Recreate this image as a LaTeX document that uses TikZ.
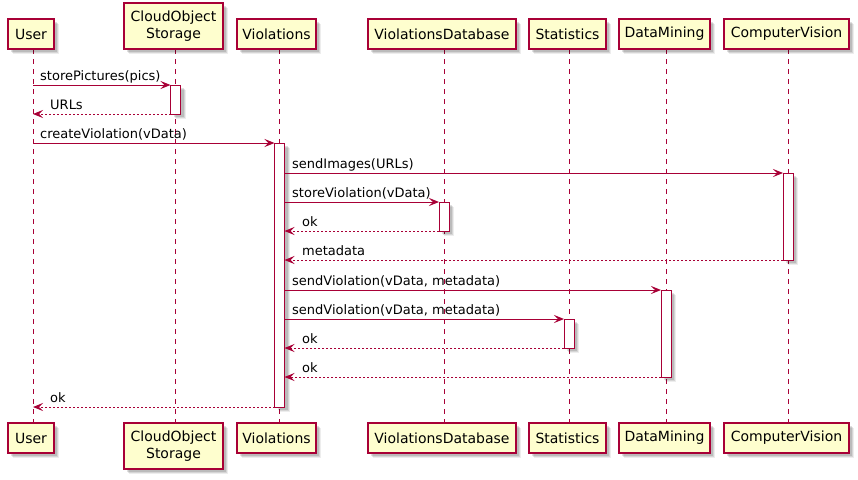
\documentclass[tikz,border=0pt]{standalone}
\usepackage{fontspec}
\setmainfont{DejaVu Sans}
\usetikzlibrary{arrows.meta,shadows}
\definecolor{pred}{HTML}{A80036}
\definecolor{pfill}{HTML}{FEFECE}
\tikzset{
  softshadow/.style={
    drop shadow={shadow xshift=5pt, shadow yshift=-5pt, fill=black, opacity=0.07},
    drop shadow={shadow xshift=4pt, shadow yshift=-4pt, fill=black, opacity=0.1},
    drop shadow={shadow xshift=3pt, shadow yshift=-3pt, fill=black, opacity=0.12}},
  part/.style={draw=pred, fill=pfill, line width=1.5pt, inner sep=0pt, align=center,
    font=\fontsize{14}{16.5}\selectfont, softshadow},
  actbox/.style={draw=pred, fill=white, line width=1pt, softshadow},
  life/.style={draw=pred, line width=1pt, dash pattern=on 5pt off 5pt},
  msg/.style={draw=pred, line width=1pt, -{Stealth[length=10pt,width=8pt,inset=4pt]}},
  ret/.style={msg, dash pattern=on 2pt off 2pt},
  lbl/.style={anchor=base west, inner sep=0pt, font=\fontsize{13}{15}\selectfont}
}
\begin{document}
\begin{tikzpicture}[x=1pt,y=-1pt]
\useasboundingbox (0,0) rectangle (858,479);
% lifeline endpoints
\coordinate (uT) at (33,49);   \coordinate (uB) at (33,423);
\coordinate (cT) at (175.5,49); \coordinate (cB) at (175.5,423);
\coordinate (vT) at (279.5,49); \coordinate (vB) at (279.5,423);
\coordinate (dT) at (444,49);  \coordinate (dB) at (444,423);
\coordinate (sT) at (569,49);  \coordinate (sB) at (569,423);
\coordinate (mT) at (666,49);  \coordinate (mB) at (666,423);
\coordinate (xT) at (788,49);  \coordinate (xB) at (788,423);
\foreach \p in {u,c,v,d,s,m,x} {\draw[life] (\p T) -- (\p B);}
% participants
\node[part, minimum width=46pt, minimum height=30pt] (userT) at (31,34) {User};
\node[part, minimum width=46pt, minimum height=30pt] (userB) at (31,438) {User};
\node[part, minimum width=99pt, minimum height=46pt] (cloudT) at (173.5,26) {CloudObject\\Storage};
\node[part, minimum width=99pt, minimum height=46pt] (cloudB) at (173.5,446) {CloudObject\\Storage};
\node[part, minimum width=79pt, minimum height=30pt] (violT) at (276.5,34) {Violations};
\node[part, minimum width=79pt, minimum height=30pt] (violB) at (276.5,438) {Violations};
\node[part, minimum width=148pt, minimum height=30pt] (vdbT) at (442,34) {ViolationsDatabase};
\node[part, minimum width=148pt, minimum height=30pt] (vdbB) at (442,438) {ViolationsDatabase};
\node[part, minimum width=77pt, minimum height=30pt] (statT) at (567.5,34) {Statistics};
\node[part, minimum width=77pt, minimum height=30pt] (statB) at (567.5,438) {Statistics};
\node[part, minimum width=91pt, minimum height=30pt] (dmT) at (664.5,34) {DataMining};
\node[part, minimum width=91pt, minimum height=30pt] (dmB) at (664.5,438) {DataMining};
\node[part, minimum width=125pt, minimum height=30pt] (cvT) at (786.5,34) {ComputerVision};
\node[part, minimum width=125pt, minimum height=30pt] (cvB) at (786.5,438) {ComputerVision};
% activations
\draw[actbox] (170.5,85) rectangle (180.5,114);
\draw[actbox] (274.5,143) rectangle (284.5,407);
\draw[actbox] (783,173) rectangle (793,260);
\draw[actbox] (439,202) rectangle (449,231);
\draw[actbox] (661,290) rectangle (671,377);
\draw[actbox] (564,319) rectangle (574,348);
% message endpoints
\coordinate (a1) at (33,85);    \coordinate (b1) at (170.5,85);
\coordinate (a2) at (170.5,114); \coordinate (b2) at (33,114);
\coordinate (a3) at (33,143);   \coordinate (b3) at (274.5,143);
\coordinate (a4) at (284.5,173); \coordinate (b4) at (783,173);
\coordinate (a5) at (284.5,202); \coordinate (b5) at (439,202);
\coordinate (a6) at (439,231);  \coordinate (b6) at (284.5,231);
\coordinate (a7) at (783,260);  \coordinate (b7) at (284.5,260);
\coordinate (a8) at (284.5,290); \coordinate (b8) at (661,290);
\coordinate (a9) at (284.5,319); \coordinate (b9) at (564,319);
\coordinate (a10) at (564,348); \coordinate (b10) at (284.5,348);
\coordinate (a11) at (661,377); \coordinate (b11) at (284.5,377);
\coordinate (a12) at (274.5,407); \coordinate (b12) at (33,407);
% messages
\draw[msg] (a1) -- (b1); \node[lbl] (l1) at (40,80.5) {storePictures(pics)};
\draw[ret] (a2) -- (b2); \node[lbl] (l2) at (50,109.5) {URLs};
\draw[msg] (a3) -- (b3); \node[lbl] (l3) at (40,138.5) {createViolation(vData)};
\draw[msg] (a4) -- (b4); \node[lbl] (l4) at (292,168.5) {sendImages(URLs)};
\draw[msg] (a5) -- (b5); \node[lbl] (l5) at (292,197.5) {storeViolation(vData)};
\draw[ret] (a6) -- (b6); \node[lbl] (l6) at (302,226.5) {ok};
\draw[ret] (a7) -- (b7); \node[lbl] (l7) at (302,255.5) {metadata};
\draw[msg] (a8) -- (b8); \node[lbl] (l8) at (292,285.5) {sendViolation(vData, metadata)};
\draw[msg] (a9) -- (b9); \node[lbl] (l9) at (292,314.5) {sendViolation(vData, metadata)};
\draw[ret] (a10) -- (b10); \node[lbl] (l10) at (302,343.5) {ok};
\draw[ret] (a11) -- (b11); \node[lbl] (l11) at (302,372.5) {ok};
\draw[ret] (a12) -- (b12); \node[lbl] (l12) at (50,402.5) {ok};
\end{tikzpicture}
\end{document}
